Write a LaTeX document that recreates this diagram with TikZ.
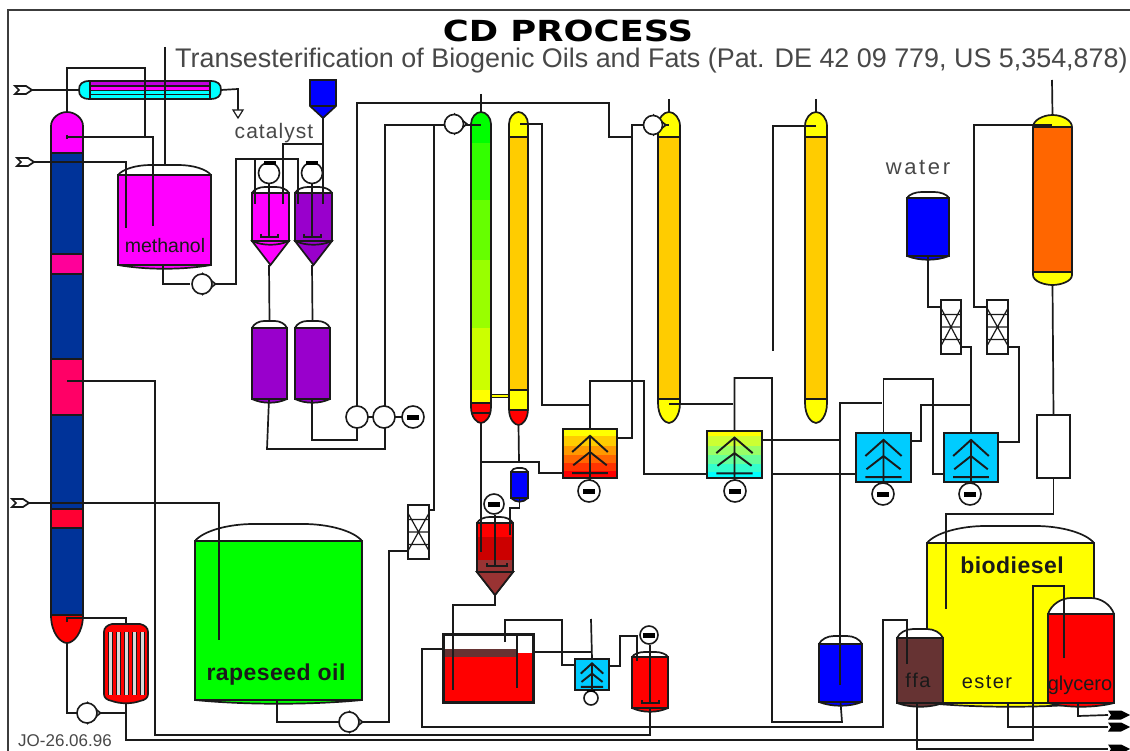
\documentclass[tikz,border=0pt]{standalone}
\usepackage{fontspec}
\setmainfont{Liberation Sans}
\newfontfamily\titlefont{DejaVu Sans}
\definecolor{ink}{HTML}{1A1A1A}
\definecolor{colblue}{HTML}{003399}
\definecolor{violet}{HTML}{9900CC}
\definecolor{brownred}{HTML}{663333}
\definecolor{orng}{HTML}{FFCC00}
\definecolor{hxblue}{HTML}{00CCFF}
\definecolor{mag}{HTML}{FF00FF}
\definecolor{yel}{HTML}{FFFF00}
\definecolor{cya}{HTML}{00FFFF}
\definecolor{grn}{HTML}{00FF00}
\definecolor{rd}{HTML}{FF0000}
\definecolor{blu}{HTML}{0000FF}
\tikzset{
 pipe/.style={line width=1.7pt,draw=ink,line join=miter},
 vessel/.style={rectangle,draw=ink,line width=1.9pt,inner sep=0pt,outer sep=0pt,anchor=north west},
 outl/.style={line width=1.7pt,draw=ink},
 rotor/.style={circle,draw=ink,fill=white,line width=1.6pt,inner sep=0pt,outer sep=0pt},
 lab/.style={inner sep=0pt,text=ink},
}
% tank: name x1 y1 x2 y2 dome colour
\newcommand\tank[7]{%
 \pgfmathsetmacro\tw{#4-#2}\pgfmathsetmacro\th{#5-#3}%
 \draw[outl,fill=#7] (#2,#5) .. controls ({#2+.3*\tw},#5+5) and ({#4-.3*\tw},#5+5) .. (#4,#5);
 \draw[outl,fill=white] (#2,#3) .. controls ({#2+.05*\tw},{#3-.6*#6}) and ({#2+.2*\tw},{#3-#6}) .. ({#2+.35*\tw},{#3-#6})
   -- ({#4-.35*\tw},{#3-#6}) .. controls ({#4-.2*\tw},{#3-#6}) and ({#4-.05*\tw},{#3-.6*#6}) .. (#4,#3);
 \node[vessel,fill=#7,minimum width=\tw pt,minimum height=\th pt] (#1) at (#2,#3) {};}
% reactor: name x1 y1 x2 y2 tip dome colour
\newcommand\reactor[8]{%
 \draw[outl,fill=#8] (#2,#5) -- ({(#2+#4)/2},#6) -- (#4,#5) -- cycle;
 \tank{#1}{#2}{#3}{#4}{#5}{#7}{#8}}
% column: name x1 x2 top bottom headheight footheight bands
\newcommand\column[8]{%
 \pgfmathsetmacro\cx{(#2+#3)/2}\pgfmathsetmacro\cw{#3-#2}%
 \def\colpath{(#2,{#4+#6}) .. controls (#2,{#4+.45*#6}) and ({#2+.25*\cw},#4) .. (\cx,#4)
   .. controls ({#3-.25*\cw},#4) and (#3,{#4+.45*#6}) .. (#3,{#4+#6})
   -- (#3,{#5-#7}) .. controls (#3,{#5-.35*#7}) and ({#3-.3*\cw},#5) .. (\cx,#5)
   .. controls ({#2+.3*\cw},#5) and (#2,{#5-.35*#7}) .. (#2,{#5-#7}) -- cycle}%
 \begin{scope}\clip \colpath; #8 \end{scope}
 \draw[outl] \colpath;
 \coordinate (#1-top) at (\cx,#4); \coordinate (#1-bot) at (\cx,#5);}
\newcommand\band[5]{\fill[#5] (#1,#3) rectangle (#2,#4); }
\newcommand\bandl[5]{\fill[#5] (#1,#3) rectangle (#2,#4); \draw[outl] (#1,#3) -- (#2,#3); }
% filter box
\newcommand\filterbox[5]{%
 \pgfmathsetmacro\fw{#4-#2}\pgfmathsetmacro\fh{#5-#3}%
 \node[vessel,fill=white,minimum width=\fw pt,minimum height=\fh pt] (#1) at (#2,#3) {};
 \draw[line width=1.2pt,draw=ink] (#2,{#3+.27*\fh}) -- (#4,{#3+.27*\fh}) (#2,{#3+.5*\fh}) -- (#4,{#3+.5*\fh}) (#2,{#3+.73*\fh}) -- (#4,{#3+.73*\fh})
   (#2,{#3+.15*\fh}) -- (#4,{#3+.85*\fh}) (#4,{#3+.15*\fh}) -- (#2,{#3+.85*\fh});}
% heat exchanger: name x1 y1 x2 y2 bands
\newcommand\hx[6]{%
 \pgfmathsetmacro\hw{#4-#2}\pgfmathsetmacro\hh{#5-#3}\pgfmathsetmacro\hc{(#2+#4)/2}%
 #6
 \node[vessel,minimum width=\hw pt,minimum height=\hh pt] (#1) at (#2,#3) {};
 \draw[line width=1.9pt,draw=ink] ({\hc-.33*\hw},{#3+.47*\hh}) -- (\hc,{#3+.14*\hh}) -- ({\hc+.33*\hw},{#3+.47*\hh})
   ({\hc-.31*\hw},{#3+.74*\hh}) -- (\hc,{#3+.47*\hh}) -- ({\hc+.31*\hw},{#3+.74*\hh})
   ({\hc-.33*\hw},{#3+.9*\hh}) -- ({\hc+.33*\hw},{#3+.9*\hh})
   (\hc,{#3+.14*\hh}) -- (\hc,{#5+4});}
\newcommand\pump[4]{%
 \filldraw[outl,fill=white] ({#2+.1*#4},{#3-#4}) -- ({#2+1.35*#4},#3) -- ({#2+.1*#4},{#3+#4}) -- cycle;
 \node[rotor,minimum size=2*#4 pt] (#1) at (#2,#3) {};}
\newcommand\motor[4]{%
 \node[rotor,minimum size=2*#4 pt] (#1) at (#2,#3) {};
 \fill[black] ({#2-6},{#3-2.5}) rectangle ({#2+6},{#3+2.5});}
\newcommand\inlet[3]{%
 \draw[outl,fill=white] (#2,{#3-4}) -- ({#2+11},{#3-4}) -- ({#2+17},#3) -- ({#2+11},{#3+4}) -- (#2,{#3+4}) -- ({#2+4},#3) -- cycle;
 \coordinate (#1) at ({#2+17},#3);}
\newcommand\outlet[3]{%
 \fill[black] (#2,{#3-4.5}) -- ({#2+13},{#3-4.5}) -- ({#2+22},#3) -- ({#2+13},{#3+4.5}) -- (#2,{#3+4.5}) -- ({#2+3},#3) -- cycle;
 \coordinate (#1) at (#2,#3);}
\newcommand\impeller[3]{\draw[line width=1.4pt,draw=ink] ({#1-8},{#3-3}) -- ({#1-8},#3) -- ({#1+#2},#3) -- ({#1+#2},{#3-3});}
\begin{document}
\begin{tikzpicture}[x=1pt,y=-1pt]
\useasboundingbox (0,0) rectangle (1130,751);
\fill[white] (0,0) rectangle (1130,751);
\draw[line width=1.7pt,draw=ink!85] (8,751) -- (8,10) -- (1130,10);

% ---- titles
\node[lab,font=\titlefont\fontsize{29}{29}\selectfont\bfseries,text=black] (title) at (568,31) {\scalebox{1.22}[1]{CD PROCESS}};
\node[lab,anchor=west,font=\fontsize{26.9}{27}\selectfont,text=ink!80] (subtitle) at (175,61) {Transesterification of Biogenic Oils and Fats (Pat. DE 42 09 779, US 5,354,878)};

% ---- left column
\column{c0}{51}{83}{112}{643}{14}{28}{%
 \band{51}{83}{112}{153}{mag}
 \bandl{51}{83}{153}{254}{colblue}
 \bandl{51}{83}{254}{274}{mag!60!rd}
 \bandl{51}{83}{274}{359}{colblue}
 \bandl{51}{83}{359}{415}{mag!40!rd}
 \bandl{51}{83}{415}{509}{colblue}
 \bandl{51}{83}{509}{528}{mag!20!rd}
 \bandl{51}{83}{528}{615}{colblue}
 \bandl{51}{83}{615}{643}{rd}}

% ---- overhead condenser
\filldraw[outl,fill=cya] (90,81) .. controls (82,81) and (79,84) .. (79,90) .. controls (79,96) and (82,99) .. (90,99) -- (210,99) .. controls (218,99) and (221,96) .. (221,90) .. controls (221,84) and (218,81) .. (210,81) -- cycle;
\fill[violet!60!mag] (90,82) rectangle (210,85.5);
\fill[mag] (90,86) rectangle (210,90);
\fill[cya] (90,95) rectangle (210,98);
\draw[line width=1.3pt,draw=ink] (90,81) -- (90,99) (210,81) -- (210,99) (90,86) -- (210,86) (90,90.5) -- (210,90.5) (90,94.5) -- (210,94.5);
\node[inner sep=0pt,outer sep=0pt,minimum width=142pt,minimum height=18pt] (cond) at (150,90) {};

% ---- inlets
\inlet{in1}{15}{90}
\inlet{in2}{17}{162}
\inlet{in3}{12}{503}

% ---- storage tanks
\tank{meth}{118}{175}{211}{265}{10}{mag}
\tank{rape}{195}{541}{362}{700}{17}{grn}
\tank{biod}{927}{543}{1094}{703}{17}{yel}
\tank{blue1}{819}{644}{862}{702}{8}{blu}
\tank{water}{907}{198}{949}{256}{6}{blu}
\tank{ffa}{897}{638}{943}{703}{9}{brownred}
\tank{glyc}{1048}{614}{1114}{703}{16}{rd}
\tank{tp1}{252}{328}{287}{399}{7}{violet}
\tank{tp2}{295}{328}{330}{399}{7}{violet}
\tank{bl2}{511}{472}{528}{498}{4}{blu}
\tank{red2}{632}{657}{668}{708}{5}{rd}

% ---- catalyst hopper
\filldraw[outl,fill=blu] (310,80) -- (336,80) -- (336,106) -- (323,118) -- (310,106) -- cycle;
\draw[outl] (310,106) -- (336,106);
\coordinate (hop) at (323,118);

% ---- stirred reactors
\reactor{r1}{252}{193}{289}{241}{265}{6}{mag}
\reactor{r2}{295}{193}{332}{241}{265}{6}{violet}
\reactor{r3}{477}{523}{513}{572}{595}{6}{rd}
\fill[rd!80!black] (478,537) rectangle (512,560);
\definecolor{rx}{HTML}{993333}
\fill[rx] (478,560) rectangle (512,571);
\filldraw[outl,fill=rx] (477,572) -- (495,595) -- (513,572) -- cycle;
\draw[outl] (r3.north west) rectangle (r3.south east);

% ---- columns
\column{c1}{471}{491}{112}{423}{12}{16}{%
 \band{471}{491}{112}{143}{grn}
 \band{471}{491}{143}{200}{grn!80!yel}
 \band{471}{491}{200}{260}{grn!60!yel}
 \band{471}{491}{260}{328}{grn!40!yel}
 \band{471}{491}{328}{390}{grn!20!yel}
 \band{471}{491}{390}{403}{yel}
 \bandl{471}{491}{403}{423}{rd}
 \draw[outl] (471,413) -- (491,413);}
\column{c2}{509}{528}{112}{425}{12}{16}{%
 \band{509}{528}{112}{137}{yel}
 \bandl{509}{528}{137}{390}{orng}
 \bandl{509}{528}{390}{410}{yel}
 \bandl{509}{528}{410}{425}{rd}}
\column{c3}{658}{680}{112}{423}{14}{20}{%
 \band{658}{680}{112}{137}{yel}
 \bandl{658}{680}{137}{399}{orng}
 \bandl{658}{680}{399}{423}{yel}}
\column{c4}{805}{827}{112}{423}{14}{20}{%
 \band{805}{827}{112}{137}{yel}
 \bandl{805}{827}{137}{399}{orng}
 \bandl{805}{827}{399}{423}{yel}}
\column{c5}{1033}{1072}{115}{285}{12}{10}{%
 \band{1033}{1072}{115}{127}{yel}
 \bandl{1033}{1072}{127}{272}{rd!60!yel}
 \bandl{1033}{1072}{272}{285}{yel}}
\filldraw[outl,fill=yel] (491,394.5) rectangle (509,397.5);

% ---- reboiler
\filldraw[outl,fill=rd] (112,624) .. controls (107,625) and (104,628) .. (104,632) -- (104,694) .. controls (104,698) and (107,700) .. (112,701) .. controls (120,704) and (132,704) .. (140,701) .. controls (145,700) and (148,698) .. (148,694) -- (148,632) .. controls (148,628) and (145,625) .. (140,624) -- cycle;
\foreach \sx in {108.5,116.5,124.5,132.5,140.5}{
  \fill[black!15] (\sx,632) rectangle (\sx+3.5,695);
  \draw[line width=1pt,draw=ink] (\sx,632) -- (\sx,695) (\sx+3.5,632) -- (\sx+3.5,695);}
\node[inner sep=0pt,outer sep=0pt,minimum width=44pt,minimum height=80pt] (reb) at (126,663) {};

% ---- settling tank
\fill[rd] (443,653) rectangle (533,702);
\fill[brownred] (443,649) rectangle (517,657);
\draw[line width=3pt,draw=ink] (443,634) rectangle (533,702);
\node[inner sep=0pt,outer sep=0pt,minimum width=90pt,minimum height=68pt] (sett) at (488,668) {};

% ---- heat exchangers
\hx{hx1}{563}{429}{617}{478}{%
 \fill[yel] (563,429) rectangle (617,436);
 \fill[orng] (563,436) rectangle (617,446);
 \fill[rd!40!yel] (563,446) rectangle (617,455);
 \fill[rd!60!yel] (563,455) rectangle (617,463);
 \fill[rd!80!yel] (563,463) rectangle (617,471);
 \fill[rd] (563,471) rectangle (617,478);}
\hx{hx2}{707}{431}{762}{478}{%
 \fill[yel] (707,431) rectangle (762,436);
 \fill[yel!80!cya] (707,436) rectangle (762,446);
 \fill[yel!60!cya] (707,446) rectangle (762,455);
 \fill[yel!40!cya] (707,455) rectangle (762,464);
 \fill[yel!20!cya] (707,464) rectangle (762,472);
 \fill[cya] (707,472) rectangle (762,478);}
\hx{hx3}{856}{433}{911}{482}{\fill[hxblue] (856,433) rectangle (911,482);}
\hx{hx4}{944}{433}{998}{482}{\fill[hxblue] (944,433) rectangle (998,482);}
\hx{hx5}{575}{659}{609}{690}{\fill[hxblue] (575,659) rectangle (609,690);}

% ---- packed beds
\filterbox{f1}{408}{505}{429}{559}
\filterbox{f2}{941}{300}{961}{354}
\filterbox{f3}{987}{300}{1008}{354}
\node[vessel,fill=white,minimum width=33pt,minimum height=63pt] (box) at (1037,415) {};

% ---- pipes
\draw[pipe] (c0-top) -- (67,68) -- (145,68) -- (145,137);
\draw[pipe] (67,135) -- (67,139) (67,137) -- (153,137) -- (153,226);
\draw[pipe] (165,47) -- (165,165);
\draw[pipe] (in1) -- (cond.west);
\draw[pipe] (in2) -- (126,162) -- (126,228);
\draw[pipe] (in3) -- (219,503) -- (219,640);
\draw[pipe] (cond.east) -- (238,89) -- (238,110);
\draw[outl,line width=1.2pt,fill=white] (233,110) -- (243,110) -- (238,118) -- cycle;
\draw[pipe] (meth.south) ++(-1.5,0) -- (163,284) -- (190,284);
\draw[pipe] (213,284) -- (236,284) -- (236,159) -- (298,159) -- (298,204);
\draw[pipe] (255,159) -- (255,204);
\draw[pipe] (hop) -- (323,204);
\draw[pipe] (323,144) -- (283,144) -- (283,204);
\draw[pipe] (269,184) -- (269,236);
\draw[pipe] (312,184) -- (312,236);
\impeller{269}{9}{237}
\impeller{312}{9}{237}
\draw[pipe] (269,265) -- (tp1.north |- 0,320);
\draw[pipe] (312,265) -- (tp2.north |- 0,320);
\draw[pipe] (tp1.south) ++(-0.5,0) -- (267,449) -- (385,449) -- (385,427);
\draw[pipe] (tp2.south) ++(-0.5,0) -- (312,440) -- (357,440) -- (357,427);
\draw[pipe] (357,406) -- (357,103) -- (609,103) -- (609,137) -- (632,137);
\draw[pipe] (654,125) -- (632,125) -- (632,438) -- (hx1.east |- 0,438);
\draw[pipe] (385,406) -- (385,125) -- (455,125);
\draw[pipe] (434,125) -- (434,510) -- (f1.east |- 0,510);
\draw[pipe] (455,125) -- (481,125);
\draw[pipe] (654,125) -- (669,125);
\draw[pipe] (481,94) -- (c1-top);
\draw[pipe] (669,99) -- (c3-top);
\draw[pipe] (816,99) -- (c4-top);
\draw[pipe] (1052,80) -- (c5-top);
\draw[pipe] (520,124) -- (542,124) -- (542,405) -- (589,405);
\draw[pipe] (hx1.north) -- (590,381) -- (644,381) -- (644,474) -- (hx2.west |- 0,474);
\draw[pipe] (c1-bot) -- (481,552);
\draw[pipe] (c2-bot) -- (519,462);
\draw[pipe] (481,462) -- (539,462) -- (539,473) -- (hx1.west |- 0,473);
\draw[pipe] (bl2.south) -- (519.5,508) -- (510,508) -- (510,535);
\draw[pipe] (495,515) -- (495,565);
\impeller{495}{12}{566}
\draw[pipe] (495,595) -- (495,605) -- (453,605) -- (453,690);
\draw[pipe] (505,642) -- (505,620) -- (562,620) -- (562,665) -- (hx5.west |- 0,665);
\draw[pipe] (517,634) -- (517,688);
\draw[pipe] (sett.east |- 0,652) -- (591,652);
\draw[pipe] (591,619) -- (hx5.north);
\draw[pipe] (442,649) -- (422,649) -- (422,727) -- (883,727) -- (883,620) -- (907,620) -- (907,664);
\draw[pipe] (hx5.east |- 0,666) -- (620,666) -- (620,636) -- (637,636) -- (637,661);
\draw[pipe] (650,645) -- (650,702);
\impeller{650}{9}{703}
\draw[pipe] (red2.south) -- (650,735) -- (155,735) -- (155,381) -- (67,381);
\draw[pipe] (reb.south) -- (126,740) -- (1033,740) -- (1033,586) -- (1064,586) -- (1064,658);
\draw[pipe] (c0-bot) -- (67,713) -- (87,713);
\draw[pipe] (87,713) -- (126,713);
\draw[pipe] (67,622) -- (67,618) -- (126,618) -- (reb.north);
\draw[pipe] (rape.south) ++(-1.5,0) -- (277,722) -- (350,722);
\draw[pipe] (350,722) -- (389,722) -- (389,551) -- (f1.west |- 0,551);
\draw[pipe] (669,404) -- (733,404);
\draw[pipe] (hx2.north) -- (734.5,378) -- (772,378) -- (772,722) -- (842,722) -- (blue1.south);
\draw[pipe] (hx2.east |- 0,440) -- (840,440);
\draw[pipe] (840,685) -- (840,403) -- (882,403);
\draw[pipe] (hx3.north) -- (883.5,379) -- (933,379) -- (933,474) -- (hx4.west |- 0,474);
\draw[pipe] (772,474) -- (hx3.west |- 0,474);
\draw[pipe] (hx3.east |- 0,441) -- (921,441) -- (921,405) -- (970,405);
\draw[pipe] (hx4.north) -- (971,347) -- (f2.east |- 0,347);
\draw[pipe] (water.south) -- (928,307) -- (f2.west |- 0,307);
\draw[pipe] (f3.west |- 0,307) -- (974,307) -- (974,125) -- (1052,125);
\draw[pipe] (f3.east |- 0,347) -- (1019,347) -- (1019,442) -- (hx4.east |- 0,442);
\draw[pipe] (773,351) -- (773,126) -- (816,126);
\draw[pipe] (c5-bot) -- (box.north);
\draw[pipe] (box.south) -- (1053.5,514) -- (946,514) -- (946,609);
\outlet{o1}{1108}{715}
\outlet{o2}{1108}{727}
\outlet{o3}{1108}{749}
\draw[pipe] (1078,703) -- (1078,716) -- (o1);
\draw[pipe] (1008,703) -- (1008,727) -- (o2);
\draw[pipe] (917,703) -- (917,749) -- (o3);

% ---- pumps and motors
\pump{p1}{202}{284}{10}
\pump{p2}{87}{713}{10}
\pump{p3}{349}{722}{10}
\pump{p4}{454}{124}{9.5}
\pump{p5}{653}{125}{9.5}
\node[rotor,minimum size=22pt] (p6) at (357,417) {};
\node[rotor,minimum size=22pt] (p7) at (384,417) {};
\draw[pipe] (p6) -- (p7);
\motor{m1}{413}{417}{11}
\draw[pipe] (p7) -- (m1);
\motor{m2}{589}{491}{11}
\motor{m3}{735}{491}{11}
\motor{m4}{883}{494}{11}
\motor{m5}{970}{494}{11}
\motor{m6}{494}{504}{10}
\motor{m7}{649}{635}{9}
\node[rotor,minimum size=14pt] (p8) at (591,698) {};
\fill[black] (587,690) rectangle (595,692);
\node[rotor,minimum size=21pt] (m8) at (269,173) {};
\fill[black] (264,161) rectangle (276,165);
\node[rotor,minimum size=21pt] (m9) at (312,173) {};
\fill[black] (306,161) rectangle (318,165);

% ---- labels
\node[lab,font=\fontsize{21}{21}\selectfont\addfontfeature{LetterSpace=5},text=ink!80] (lcat) at (274,133) {catalyst};
\node[lab,font=\fontsize{22}{22}\selectfont\addfontfeature{LetterSpace=12},text=ink!80] (lwat) at (918,167) {water};
\node[lab,font=\fontsize{19.5}{20}\selectfont] (lmeth) at (165,246) {methanol};
\node[lab,font=\fontsize{23}{23}\selectfont\bfseries\addfontfeature{LetterSpace=2}] (lrape) at (276,675) {rapeseed oil};
\node[lab,font=\fontsize{23}{23}\selectfont\bfseries\addfontfeature{LetterSpace=2}] (lbio) at (1012,565) {biodiesel};
\node[lab,font=\fontsize{20}{20}\selectfont\addfontfeature{LetterSpace=7}] (lest) at (987,682) {ester};
\node[lab,font=\fontsize{20}{20}\selectfont] (lgly) at (1080,685) {glycero};
\node[lab,font=\fontsize{20}{20}\selectfont\addfontfeature{LetterSpace=8}] (lffa) at (918,680) {ffa};
\node[lab,font=\fontsize{17}{17}\selectfont,text=ink!80] (ldate) at (65,741) {JO-26.06.96};
\end{tikzpicture}
\end{document}
